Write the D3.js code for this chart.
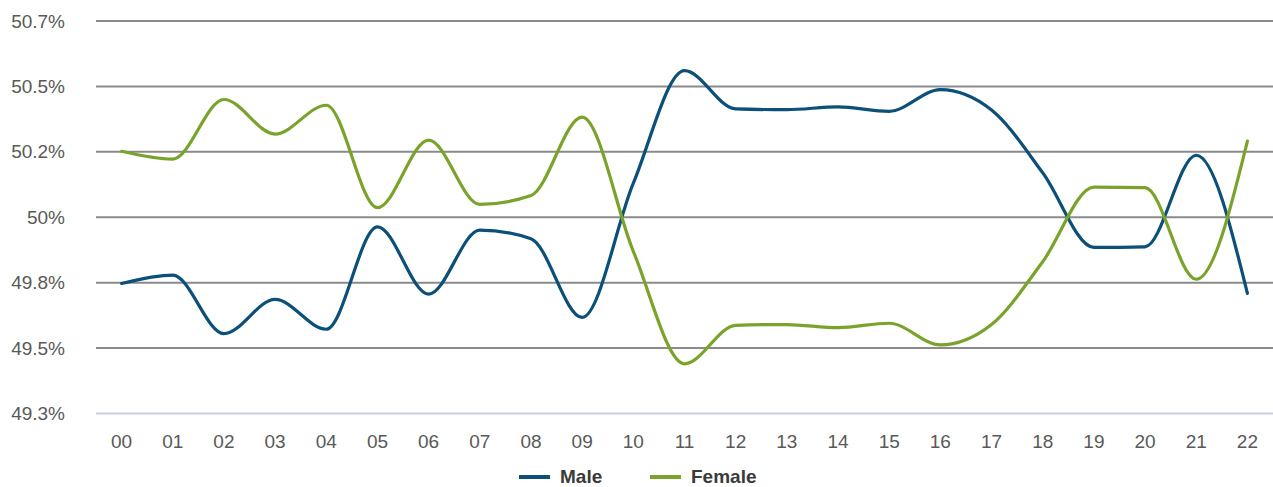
<!DOCTYPE html>
<html>
<head>
<meta charset="utf-8">
<script src="https://cdn.jsdelivr.net/npm/d3@7"></script>
<style>
  body { margin: 0; background: #fff; }
  svg { font-family: "Liberation Sans", Arial, sans-serif; }
</style>
</head>
<body>
<div id="chart"></div>
<script>
// data
var years = ["00","01","02","03","04","05","06","07","08","09","10","11","12","13","14","15","16","17","18","19","20","21","22"];
var male = [49.747,49.779,49.555,49.686,49.572,49.963,49.706,49.951,49.918,49.617,50.13,50.56,50.414,50.411,50.422,50.405,50.488,50.41,50.17,49.885,49.887,50.237,49.709];
var female = [50.252,50.222,50.45,50.318,50.428,50.037,50.295,50.049,50.083,50.383,49.87,49.44,49.587,49.59,49.578,49.595,49.512,49.59,49.83,50.115,50.113,49.763,50.291];
var yTicks = [49.25,49.5,49.75,50,50.25,50.5,50.75];
var yTickLabels = ["49.3%","49.5%","49.8%","50%","50.2%","50.5%","50.7%"];

var width = 1273, height = 487;
var margin = {left: 96, right: 0, top: 21, bottom: 73};

var svg = d3.select("#chart")
  .append("svg")
    .attr("width", width)
    .attr("height", height);

var x = d3.scaleBand()
  .domain(years)
  .range([margin.left, width - margin.right]);

var y = d3.scaleLinear()
  .domain([49.25, 50.75])
  .range([height - margin.bottom - 0.5, margin.top]);

// gridlines
svg.append("g")
  .selectAll("line")
  .data(yTicks)
  .enter()
  .append("line")
    .attr("x1", margin.left)
    .attr("x2", width - margin.right)
    .attr("y1", function(d) { return y(d); })
    .attr("y2", function(d) { return y(d); })
    .attr("stroke", function(d) { return d == 49.25 ? "#c5d0e4" : "#8a8a8a"; })
    .attr("stroke-width", 2);

// y labels
svg.append("g")
  .selectAll("text")
  .data(yTicks)
  .enter()
  .append("text")
    .attr("x", 65)
    .attr("y", function(d) { return y(d); })
    .attr("dy", "0.35em")
    .attr("text-anchor", "end")
    .attr("font-size", 19)
    .attr("fill", "#595959")
    .text(function(d, i) { return yTickLabels[i]; });

// x labels
svg.append("g")
  .selectAll("text")
  .data(years)
  .enter()
  .append("text")
    .attr("x", function(d) { return x(d) + x.bandwidth() / 2; })
    .attr("y", 441)
    .attr("dy", "0.35em")
    .attr("text-anchor", "middle")
    .attr("font-size", 19)
    .attr("fill", "#595959")
    .text(function(d) { return d; });

var line = d3.line()
  .x(function(d, i) { return x(years[i]) + x.bandwidth() / 2; })
  .y(function(d) { return y(d); })
  .curve(d3.curveMonotoneX);

var series = [
  {name: "Male", values: male, color: "#0c4f78"},
  {name: "Female", values: female, color: "#7aa32c"}
];

svg.append("g")
  .selectAll("path")
  .data(series)
  .enter()
  .append("path")
    .attr("d", function(s) { return line(s.values); })
    .attr("fill", "none")
    .attr("stroke", function(s) { return s.color; })
    .attr("stroke-width", 3.2)
    .attr("stroke-linecap", "round")
    .attr("stroke-linejoin", "round");

// legend
var legendX = [519, 650];
var lg = svg.append("g")
  .selectAll("g")
  .data(series)
  .enter()
  .append("g")
    .attr("transform", function(s, i) { return "translate(" + legendX[i] + ",476)"; });

lg.append("line")
  .attr("x1", 0).attr("x2", 31)
  .attr("y1", 1).attr("y2", 1)
  .attr("stroke", function(s) { return s.color; })
  .attr("stroke-width", 4);

lg.append("text")
  .attr("x", 41)
  .attr("dy", "0.35em")
  .attr("font-size", 19)
  .attr("font-weight", "bold")
  .attr("fill", "#3a3a3a")
  .text(function(s) { return s.name; });
</script>
</body>
</html>
